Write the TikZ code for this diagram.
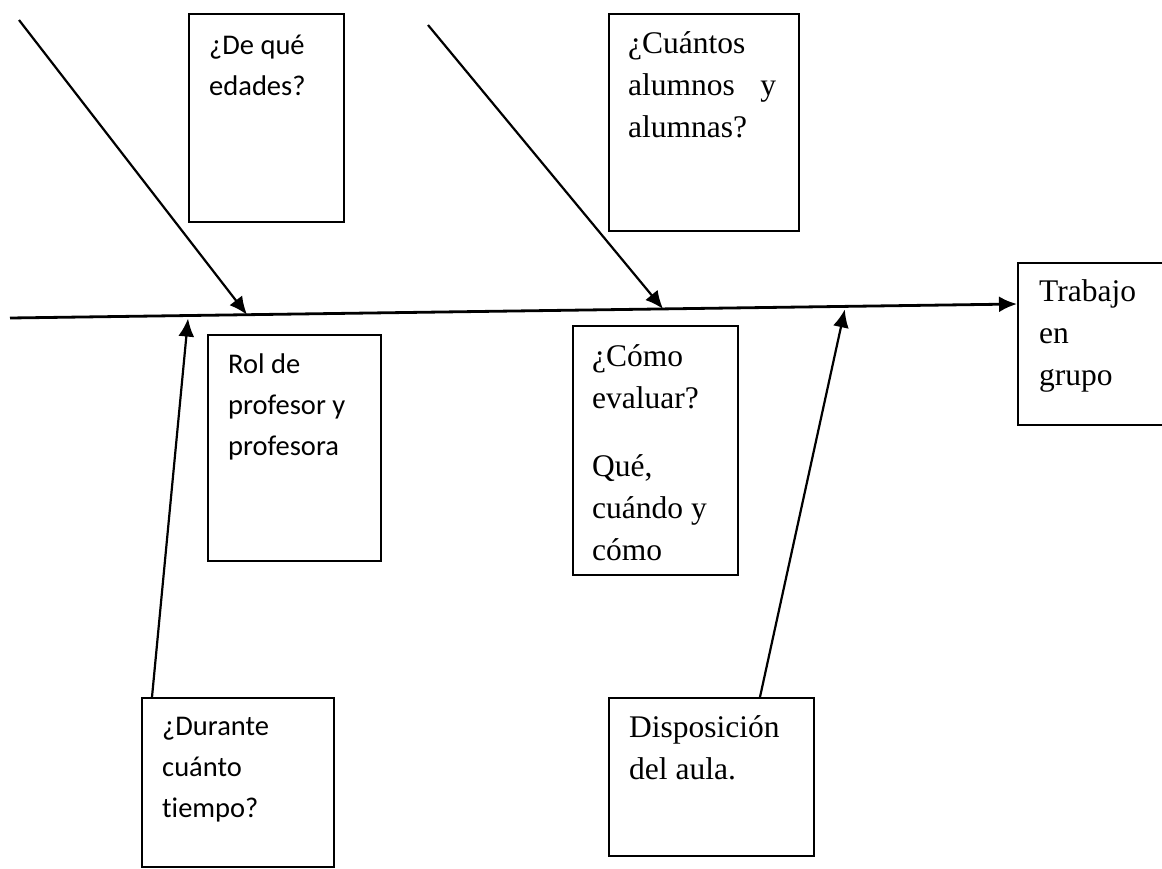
\documentclass[tikz,border=0pt]{standalone}
\usepackage{fontspec}
\setmainfont{Liberation Serif}
\newfontfamily\calib[Ligatures=NoCommon]{Carlito}
\usetikzlibrary{arrows.meta,calc}
\tikzset{
  box/.style={draw=black, line width=1.8pt, rectangle, inner sep=0pt, anchor=north west},
  txt/.style={anchor=base west, inner sep=0pt},
  sansT/.style={font=\calib\fontsize{28.5}{41}\selectfont},
  serifT/.style={font=\fontsize{31.5}{42}\selectfont},
  arr/.style={line width=2.2pt, -{Latex[length=18pt,width=16pt]}},
  spine/.style={line width=2.8pt, -{Latex[length=18pt,width=16pt]}}
}
\begin{document}
\begin{tikzpicture}[x=1pt,y=-1pt]
\useasboundingbox (0,0) rectangle (1162,868);
\clip (0,0) rectangle (1162,868);
\fill[white] (0,0) rectangle (1162,868);
% boxes
\node[box, minimum width=155pt, minimum height=208pt] (edades) at (188,13) {};
\node[box, minimum width=190pt, minimum height=217pt] (cuantos) at (608,13) {};
\node[box, minimum width=160pt, minimum height=162pt] (trabajo) at (1017,262) {};
\node[box, minimum width=173pt, minimum height=226pt] (rol) at (207,334) {};
\node[box, minimum width=165pt, minimum height=249pt] (como) at (572,325) {};
\node[box, minimum width=192pt, minimum height=169pt] (durante) at (141,697) {};
\node[box, minimum width=205pt, minimum height=158pt] (dispo) at (608,697) {};
% texts
\node[txt, sansT] (tedades) at (209,54) {\vtop{\hbox{¿De qué}\hbox{edades?}}};
\node[txt, serifT] (tcuantos) at (628,53) {\vtop{\hbox{¿Cuántos}\hbox to 148pt{alumnos\hfill y}\hbox{alumnas?}}};
\node[txt, serifT] (ttrabajo) at (1039,301) {\vtop{\hbox{Trabajo}\hbox{en}\hbox{grupo}}};
\node[txt, sansT] (trol) at (228,373) {\vtop{\hbox{Rol de}\hbox{profesor y}\hbox{profesora}}};
\node[txt, serifT] (tcomo) at (592,366) {\vtop{\hbox{¿Cómo}\hbox{evaluar?}\vskip26pt\hbox{Qué,}\hbox{cuándo y}\hbox{cómo}}};
\node[txt, sansT] (tdurante) at (162,735) {\vtop{\hbox{¿Durante}\hbox{cuánto}\hbox{tiempo?}}};
\node[txt, serifT] (tdispo) at (629,737) {\vtop{\hbox{Disposición}\hbox{del aula.}}};
% spine
\coordinate (spineL) at (10,318);
\coordinate (spineR) at ($(trabajo.north west)+(0,42)$);
\draw[spine] (spineL) -- (spineR);
% tips on spine
\coordinate (tip1) at ($(spineL)!0.2353!(spineR)$);
\coordinate (tip2) at ($(spineL)!0.6485!(spineR)$);
\coordinate (tip3) at ($(spineL)!0.1768!(spineR)+(0,3)$);
\coordinate (tip4) at ($(spineL)!0.829!(spineR)+(0,3)$);
\coordinate (s1) at (19,20);
\coordinate (s2) at (428,25);
\draw[arr] (s1) -- (tip1);
\draw[arr] (s2) -- (tip2);
\draw[arr] ($(durante.north west)+(11,0)$) -- (tip3);
\draw[arr] ($(dispo.north west)+(152,0)$) -- (tip4);
\end{tikzpicture}
\end{document}
